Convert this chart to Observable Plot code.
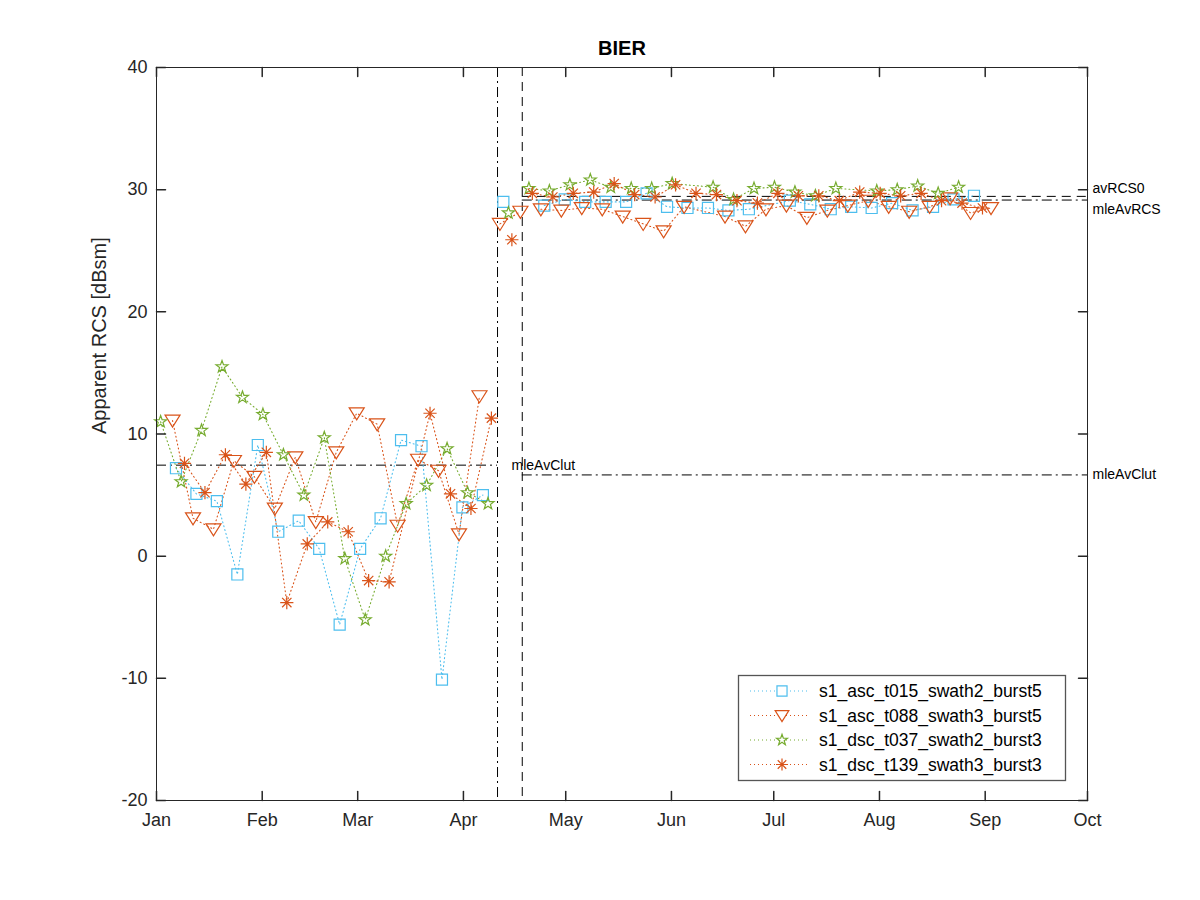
<!DOCTYPE html>
<html><head><meta charset="utf-8">
<script src="https://cdn.jsdelivr.net/npm/d3@7"></script>
<script src="https://cdn.jsdelivr.net/npm/@observablehq/plot@0.6"></script>
<style>
body{margin:0;background:#fff;}
#chart{position:relative;width:1200px;height:900px;}
</style></head><body><div id="chart"></div>
<script>
const year = "2018";
const titleText = "BIER";
const yLabel = "Apparent RCS [dBsm]";
const seriesNames = ["s1_asc_t015_swath2_burst5","s1_asc_t088_swath3_burst5","s1_dsc_t037_swath2_burst3","s1_dsc_t139_swath3_burst3"];
const seriesColors = ["#4DBEEE","#D95319","#77AC30","#D95319"];
const seriesHours = ["T17:00Z","T17:00Z","T05:00Z","T05:00Z"];

const ascT015Dates = ["01-06","01-12","01-18","01-24","01-30","02-05","02-11","02-17","02-23","03-01","03-07","03-13","03-19","03-25","03-31","04-06","04-12","04-24","04-30","05-06","05-12","05-18","05-24","05-30","06-05","06-11","06-17","06-23","07-05","07-11","07-17","07-23","07-29","08-04","08-10","08-16","08-22","08-28"];
const ascT015Values = [7.2,5.1,4.5,-1.5,9.1,2.0,2.9,0.6,-5.6,0.6,3.1,9.5,9.0,-10.1,4.0,5.0,29.0,28.7,29.2,29.0,29.0,29.0,29.7,28.6,28.5,28.5,28.3,28.4,29.1,28.8,28.4,28.6,28.5,28.9,28.3,28.6,29.2,29.5];

const ascT088Dates = ["01-05","01-11","01-17","01-23","01-29","02-04","02-10","02-16","02-22","02-28","03-06","03-12","03-18","03-24","03-30","04-05","04-11","04-17","04-23","04-29","05-05","05-11","05-17","05-23","05-29","06-04","06-16","06-22","06-28","07-04","07-10","07-16","07-22","07-28","08-03","08-09","08-15","08-21","08-27","09-02"];
const ascT088Values = [11.1,3.1,2.2,7.8,6.5,3.9,8.1,2.8,8.5,11.7,10.8,2.5,7.9,7.0,1.8,13.1,27.2,28.2,28.4,28.3,28.5,28.4,27.8,27.2,26.6,28.6,27.8,27.0,28.4,28.7,27.7,28.3,28.7,29.1,28.6,28.2,28.6,29.3,28.1,28.5];

const dscT037Dates = ["01-02","01-08","01-14","01-20","01-26","02-01","02-07","02-13","02-19","02-25","03-03","03-09","03-15","03-21","03-27","04-02","04-08","04-14","04-20","04-26","05-02","05-08","05-14","05-20","05-26","06-01","06-13","06-19","06-25","07-01","07-07","07-13","07-19","07-31","08-06","08-12","08-18","08-24"];
const dscT037Values = [11.0,6.1,10.3,15.5,13.0,11.6,8.3,5.0,9.7,-0.2,-5.2,0.0,4.3,5.8,8.8,5.2,4.3,28.1,30.1,29.9,30.4,30.8,30.2,30.1,30.1,30.5,30.2,29.2,30.1,30.2,29.8,29.5,30.1,29.9,30.0,30.3,29.7,30.2];

const dscT139Dates = ["01-09","01-15","01-21","01-27","02-02","02-08","02-14","02-20","02-26","03-04","03-10","03-22","03-28","04-03","04-09","04-15","04-21","04-27","05-03","05-09","05-15","05-21","05-27","06-02","06-08","06-14","06-20","06-26","07-02","07-08","07-14","07-20","07-26","08-01","08-07","08-13","08-19","08-25","08-31"];
const dscT139Values = [7.6,5.2,8.3,5.9,8.5,-3.8,1.0,2.8,2.0,-2.0,-2.1,11.7,5.1,3.9,11.3,25.9,29.7,29.4,29.7,29.8,30.5,29.6,29.4,30.4,29.7,29.6,29.1,28.9,29.7,29.5,29.5,29.1,29.8,29.7,29.5,29.7,29.1,28.9,28.5];

// reference lines
const vLineTimes = ["2018-04-11T00:00Z","2018-04-18T06:00Z"];
const vLineStyles = ["dashdot","dashed"];
const hLineNames = ["mleAvClut","mleAvClut","avRCS0","mleAvRCS"];
const hLineValues = [7.45,6.65,29.45,29.15];
const hLineStart = ["2018-01-01T00:00Z","2018-04-18T06:00Z","2018-04-18T06:00Z","2018-04-18T06:00Z"];
const hLineEnd = ["2018-04-11T00:00Z","2018-10-01T00:00Z","2018-10-01T00:00Z","2018-10-01T00:00Z"];
const hLineStyles = ["dashdot","dashdot","dashed","dashdot"];
const hLabelX = ["2018-04-11T00:00Z","2018-10-01T00:00Z","2018-10-01T00:00Z","2018-10-01T00:00Z"];

const monthTicks = ["2018-01-01","2018-02-01","2018-03-01","2018-04-01","2018-05-01","2018-06-01","2018-07-01","2018-08-01","2018-09-01","2018-10-01"];
const yTicks = [-20,-10,0,10,20,30,40];

const dashes = {dashdot: "10,4,2,4", dashed: "9,6", dotted: "1,3"};

// symbols
const symSquare = {draw(ctx, size){ const r = Math.sqrt(size/Math.PI)*0.92; ctx.moveTo(-r,-r); ctx.lineTo(r,-r); ctx.lineTo(r,r); ctx.lineTo(-r,r); ctx.closePath(); }};
const symTriDown = {draw(ctx, size){ const r = Math.sqrt(size/Math.PI); ctx.moveTo(-1.25*r,-0.9*r); ctx.lineTo(1.25*r,-0.9*r); ctx.lineTo(0,1.1*r); ctx.closePath(); }};
const symStar = {draw(ctx, size){ const r = Math.sqrt(size/Math.PI); const R = 1.05*r, ri = R*0.4;
  for (let i=0;i<10;i++){ const a = -Math.PI/2 + i*Math.PI/5; const rr = i%2===0?R:ri; const x = rr*Math.cos(a), y = rr*Math.sin(a); if(i===0) ctx.moveTo(x,y); else ctx.lineTo(x,y);} ctx.closePath(); }};
const symAst = {draw(ctx, size){ const r = Math.sqrt(size/Math.PI)*1.1;
  for (let i=0;i<4;i++){ const a = i*Math.PI/4; ctx.moveTo(-r*Math.cos(a),-r*Math.sin(a)); ctx.lineTo(r*Math.cos(a), r*Math.sin(a)); } }};
const seriesSymbols = [symSquare, symTriDown, symStar, symAst];

const vTimes = vLineTimes.map(t=>new Date(t));
function build(dates, values, k){
  return dates.map((d,i)=>{
    const date = new Date(year+"-"+d+seriesHours[k]);
    const seg = date < vTimes[0] ? 0 : (date < vTimes[1] ? 1 : 2);
    return {date, value: values[i], seg};
  });
}
const series = [
  build(ascT015Dates, ascT015Values, 0),
  build(ascT088Dates, ascT088Values, 1),
  build(dscT037Dates, dscT037Values, 2),
  build(dscT139Dates, dscT139Values, 3)
];

const hLines = hLineValues.map((v,i)=>({name: hLineNames[i], y: v, x1: new Date(hLineStart[i]), x2: new Date(hLineEnd[i]), style: hLineStyles[i], lx: new Date(hLabelX[i])}));
const vLines = vTimes.map((t,i)=>({x: t, style: vLineStyles[i]}));
const mTicks = monthTicks.map(d=>new Date(d+"T00:00Z"));

const tickShape = {draw(ctx, l){ ctx.moveTo(0,0); ctx.lineTo(0,-l); }};
const axisColor = "#262626";

const marks = [];
// reference lines
for (const st of ["dashdot","dashed"]) {
  marks.push(Plot.ruleX(vLines.filter(d=>d.style===st), {x: "x", stroke: "#000", strokeWidth: 1, strokeDasharray: dashes[st]}));
  marks.push(Plot.ruleY(hLines.filter(d=>d.style===st), {y: "y", x1: "x1", x2: "x2", stroke: "#000", strokeWidth: 1, strokeDasharray: dashes[st]}));
}
// data
series.forEach((s,k)=>{
  marks.push(Plot.line(s, {x: "date", y: "value", z: "seg", stroke: seriesColors[k], strokeWidth: 1.1, strokeDasharray: dashes.dotted}));
});
series.forEach((s,k)=>{
  marks.push(Plot.dot(s, {x: "date", y: "value", symbol: seriesSymbols[k], r: 6, stroke: seriesColors[k], fill: "none", strokeWidth: 1.2}));
});
// ref labels
const labelDy = {avRCS0: -8, mleAvRCS: 9, mleAvClut: 0};
hLines.forEach((d,i)=>{
  marks.push(Plot.text([d], {x: "lx", y: "y", text: "name", textAnchor: "start", dx: i===0?14:5, dy: labelDy[d.name], fontSize: 14, fill: "#000"}));
});
// frame and axes
marks.push(Plot.frame({stroke: axisColor, strokeWidth: 1}));
marks.push(Plot.axisX({ticks: mTicks, tickFormat: d3.utcFormat("%b"), tickSize: 0, tickPadding: 13, fontSize: 18, label: null, color: axisColor}));
marks.push(Plot.axisY({ticks: yTicks, tickFormat: d=>String(d), tickSize: 0, tickPadding: 9, fontSize: 18, label: null, color: axisColor}));
marks.push(Plot.vector(mTicks, {x: d=>d, frameAnchor: "bottom", rotate: 0, length: 9, anchor: "start", shape: tickShape, stroke: axisColor}));
marks.push(Plot.vector(mTicks, {x: d=>d, frameAnchor: "top", rotate: 180, length: 9, anchor: "start", shape: tickShape, stroke: axisColor}));
marks.push(Plot.vector(yTicks, {y: d=>d, frameAnchor: "left", rotate: 90, length: 9, anchor: "start", shape: tickShape, stroke: axisColor}));
marks.push(Plot.vector(yTicks, {y: d=>d, frameAnchor: "right", rotate: -90, length: 9, anchor: "start", shape: tickShape, stroke: axisColor}));
marks.push(Plot.text([yLabel], {frameAnchor: "left", rotate: -90, dx: -57, fontSize: 20, fill: axisColor}));
marks.push(Plot.text([titleText], {frameAnchor: "top", dy: -27, fontSize: 20, fontWeight: "bold", fill: "#000"}));

const chart = Plot.plot({
  width: 1200, height: 900,
  marginLeft: 156, marginRight: 113, marginTop: 67, marginBottom: 100,
  style: {fontFamily: "'Liberation Sans', Arial, Helvetica, sans-serif", background: "#fff", color: axisColor},
  x: {type: "utc", domain: [new Date("2018-01-01T00:00Z"), new Date("2018-10-01T00:00Z")]},
  y: {domain: [-20, 40]},
  marks
});
document.getElementById("chart").appendChild(chart);

// legend (inside the axes, bottom-right)
const svg = d3.select(chart);
const lg = svg.append("g").attr("font-family", "'Liberation Sans', Arial, sans-serif").attr("text-anchor", "start");
const bx = 738, by = 675, bw = 327, bh = 105;
lg.append("rect").attr("x", bx+0.5).attr("y", by+0.5).attr("width", bw).attr("height", bh).attr("fill", "#fff").attr("stroke", "#555").attr("stroke-width", 1.3);
seriesNames.forEach((name,k)=>{
  const cy = by + 16 + k*24.5;
  lg.append("line").attr("x1", bx+12).attr("x2", bx+72).attr("y1", cy).attr("y2", cy).attr("stroke", seriesColors[k]).attr("stroke-width", 1.1).attr("stroke-dasharray", dashes.dotted);
  lg.append("path").attr("transform", `translate(${bx+44},${cy})`).attr("d", d3.symbol(seriesSymbols[k], 30*Math.PI)()).attr("fill", "#fff").attr("stroke", seriesColors[k]).attr("stroke-width", 1.2);
  lg.append("text").attr("x", bx+81).attr("y", cy).attr("dy", "0.35em").attr("text-anchor", "start").attr("font-size", 17.5).attr("fill", "#000").text(name);
});
</script></body></html>
